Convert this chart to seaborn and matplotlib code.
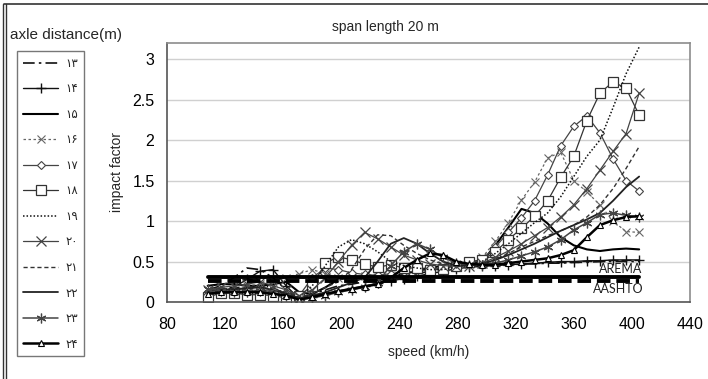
import numpy as np
import pandas as pd
import matplotlib
matplotlib.use("Agg")
import matplotlib.pyplot as plt
import seaborn as sns
from matplotlib.lines import Line2D

# speed grid (km/h)
speeds = [108, 117, 126, 135, 144, 153, 162, 171, 180, 189, 198, 207, 216, 225, 234, 243, 252,
          261, 270, 279, 288, 297, 306, 315, 324, 333, 342, 351, 360, 369, 378, 387, 396, 405]

# impact factor for each axle distance (m)
if13 = [0.15, 0.20, 0.30, 0.42, 0.40, 0.30, 0.15, 0.05, 0.10, 0.15, 0.20, 0.22, 0.25, 0.27, 0.30, 0.32, 0.35,
        0.38, 0.42, 0.46, 0.48, 0.47, 0.46, 0.46, 0.47, 0.47, 0.48, 0.48, 0.49, 0.49, 0.50, 0.50, 0.50, 0.50]
if14 = [0.10, 0.12, 0.18, 0.28, 0.38, 0.40, 0.20, 0.04, 0.06, 0.10, 0.14, 0.17, 0.20, 0.23, 0.26, 0.29, 0.32,
        0.35, 0.38, 0.41, 0.43, 0.44, 0.45, 0.46, 0.47, 0.48, 0.49, 0.50, 0.50, 0.51, 0.51, 0.52, 0.52, 0.52]
if15 = [0.20, 0.22, 0.22, 0.20, 0.20, 0.22, 0.25, 0.12, 0.10, 0.18, 0.28, 0.30, 0.28, 0.27, 0.30, 0.35, 0.38,
        0.42, 0.45, 0.45, 0.46, 0.50, 0.70, 0.92, 1.15, 1.10, 0.97, 0.80, 0.70, 0.65, 0.63, 0.65, 0.66, 0.65]
if16 = [0.15, 0.18, 0.20, 0.20, 0.22, 0.25, 0.30, 0.35, 0.40, 0.35, 0.30, 0.30, 0.32, 0.35, 0.38, 0.40, 0.42,
        0.42, 0.44, 0.46, 0.48, 0.55, 0.75, 0.98, 1.26, 1.48, 1.78, 1.85, 1.50, 1.36, 1.20, 1.00, 0.87, 0.86]
if17 = [0.12, 0.15, 0.15, 0.15, 0.14, 0.15, 0.12, 0.08, 0.30, 0.42, 0.40, 0.36, 0.34, 0.33, 0.35, 0.37, 0.38,
        0.40, 0.42, 0.45, 0.48, 0.52, 0.68, 0.86, 1.04, 1.25, 1.57, 1.93, 2.17, 2.30, 2.09, 1.77, 1.50, 1.37]
if18 = [0.06, 0.11, 0.11, 0.09, 0.09, 0.08, 0.05, 0.08, 0.20, 0.48, 0.56, 0.52, 0.47, 0.43, 0.46, 0.42, 0.42,
        0.40, 0.41, 0.45, 0.50, 0.52, 0.62, 0.77, 0.91, 1.06, 1.25, 1.54, 1.80, 2.24, 2.58, 2.72, 2.64, 2.31]
if19 = [0.10, 0.12, 0.15, 0.18, 0.20, 0.18, 0.10, 0.05, 0.20, 0.45, 0.68, 0.77, 0.72, 0.62, 0.50, 0.45, 0.42,
        0.40, 0.40, 0.43, 0.47, 0.50, 0.60, 0.72, 0.85, 0.98, 1.10, 1.30, 1.55, 1.80, 2.00, 2.40, 2.82, 3.15]
if20 = [0.15, 0.18, 0.20, 0.22, 0.25, 0.20, 0.15, 0.08, 0.15, 0.30, 0.50, 0.70, 0.86, 0.78, 0.68, 0.58, 0.52,
        0.47, 0.45, 0.44, 0.45, 0.48, 0.55, 0.63, 0.72, 0.82, 0.92, 1.05, 1.20, 1.40, 1.63, 1.86, 2.08, 2.58]
if21 = [0.12, 0.14, 0.15, 0.16, 0.18, 0.16, 0.12, 0.06, 0.10, 0.18, 0.25, 0.40, 0.65, 0.83, 0.82, 0.70, 0.60,
        0.52, 0.47, 0.45, 0.45, 0.47, 0.52, 0.60, 0.68, 0.75, 0.82, 0.88, 0.95, 1.05, 1.20, 1.40, 1.65, 1.92]
if22 = [0.14, 0.15, 0.16, 0.17, 0.18, 0.15, 0.10, 0.05, 0.08, 0.12, 0.18, 0.24, 0.30, 0.50, 0.72, 0.79, 0.72,
        0.60, 0.50, 0.45, 0.45, 0.47, 0.52, 0.58, 0.65, 0.72, 0.80, 0.88, 0.95, 1.02, 1.10, 1.25, 1.42, 1.55]
if23 = [0.16, 0.14, 0.12, 0.12, 0.13, 0.12, 0.08, 0.03, 0.05, 0.08, 0.12, 0.15, 0.18, 0.24, 0.45, 0.62, 0.72,
        0.65, 0.55, 0.48, 0.46, 0.46, 0.48, 0.52, 0.57, 0.62, 0.68, 0.77, 0.89, 0.98, 1.08, 1.10, 1.07, 1.05]
if24 = [0.10, 0.12, 0.12, 0.12, 0.12, 0.10, 0.08, 0.03, 0.06, 0.10, 0.13, 0.16, 0.19, 0.22, 0.30, 0.42, 0.52,
        0.60, 0.58, 0.50, 0.47, 0.46, 0.46, 0.48, 0.50, 0.52, 0.54, 0.58, 0.64, 0.80, 0.95, 1.01, 1.05, 1.06]

series_labels = ["۱۳", "۱۴", "۱۵", "۱۶", "۱۷", "۱۸", "۱۹", "۲۰", "۲۱", "۲۲", "۲۳", "۲۴"]
series_values = [if13, if14, if15, if16, if17, if18, if19, if20, if21, if22, if23, if24]

# code limits
code_speed = [108, 405]
arema_value = [0.31, 0.31]
aashto_value = [0.265, 0.265]

sns.set_style("white")
plt.rcParams["font.family"] = ["Liberation Sans", "DejaVu Sans"]

fig = plt.figure(figsize=(7.08, 3.79), dpi=100)
ax = fig.add_axes([167 / 708, 1 - 302 / 379, (690 - 167) / 708, (302 - 43) / 379])


def style(color, ls, lw, marker="None", ms=6, face=None, mew=0.8):
    return dict(color=color, linestyle=ls, linewidth=lw, marker=marker, markersize=ms,
                markerfacecolor=face if face else color, markeredgecolor=color, markeredgewidth=mew)


styles = [
    style("#111111", (0, (7, 2.5, 1.5, 2.5)), 1.2),
    style("#111111", "-", 1.0, "+", 6.5, mew=1.0),
    style("#000000", "-", 1.5),
    style("#666666", (0, (2, 2)), 0.9, "x", 5.5, mew=0.8),
    style("#444444", "-", 0.9, "D", 4.5, face="white", mew=0.8),
    style("#333333", "-", 0.9, "s", 7, face="white", mew=0.9),
    style("#111111", (0, (1, 1.3)), 1.1),
    style("#444444", "-", 0.9, "x", 7, mew=0.9),
    style("#333333", (0, (3, 2)), 1.0),
    style("#222222", "-", 1.3),
    style("#444444", "-", 1.1, (6, 2, 0), 7, mew=0.9),
    style("#000000", "-", 1.8, "^", 4, face="white", mew=0.8),
]

handles = []
for lab, vals, st in zip(series_labels, series_values, styles):
    df = pd.DataFrame({"speed": speeds, "impact": vals})
    sns.lineplot(data=df, x="speed", y="impact", ax=ax, estimator=None, sort=False, legend=False, **st)
    handles.append(Line2D([], [], **st))

# AREMA and AASHTO limits
sns.lineplot(x=code_speed, y=arema_value, ax=ax, legend=False, color="black", linewidth=2.8, linestyle="-")
sns.lineplot(x=code_speed, y=aashto_value, ax=ax, legend=False, color="black", linewidth=2.8,
             linestyle=(0, (3.5, 1.5)))

ax.text(407, 0.335, "AREMA", ha="right", va="bottom", fontsize=9, family=["Lato", "DejaVu Sans"],
        color="#222222")
ax.text(408, 0.235, "AASHTO", ha="right", va="top", fontsize=9, family=["Lato", "DejaVu Sans"],
        color="#222222")

ax.set_xlim(80, 440)
ax.set_ylim(0, 3.2)
ax.set_xticks([80, 120, 160, 200, 240, 280, 320, 360, 400, 440])
ax.set_yticks([0, 0.5, 1, 1.5, 2, 2.5, 3])
ax.set_yticklabels(["0", "0.5", "1", "1.5", "2", "2.5", "3"])
ax.yaxis.grid(True, color="#d0d0d0", linewidth=1)
ax.set_axisbelow(True)
ax.tick_params(axis="both", direction="out", length=5, width=1, colors="#444444", labelsize=11.5,
               labelcolor="black", pad=4)
ax.tick_params(axis="x", pad=6)
for side in ["top", "right"]:
    ax.spines[side].set_color("#8c8c8c")
    ax.spines[side].set_linewidth(1.2)
for side in ["left", "bottom"]:
    ax.spines[side].set_color("#555555")
    ax.spines[side].set_linewidth(1.2)

ax.set_xlabel("speed (km/h)", fontsize=10, labelpad=9)
ax.set_ylabel("impact factor", fontsize=10, labelpad=6)
fig.text(385 / 708, 1 - 27 / 379, "span length 20 m", ha="center", va="center", fontsize=10)
fig.text(10 / 708, 1 - 35 / 379, "axle distance(m)", ha="left", va="center", fontsize=11)

leg = fig.legend(handles, series_labels, loc="upper left", bbox_to_anchor=(17 / 708, 1 - 51 / 379),
                 bbox_transform=fig.transFigure, frameon=True, fancybox=False, borderaxespad=0,
                 handlelength=3.0, labelspacing=1.06, borderpad=0.5, handletextpad=0.6,
                 prop={"family": ["DejaVu Sans"], "size": 8.5})
leg.get_frame().set_edgecolor("#555555")
leg.get_frame().set_linewidth(1.0)

# page frame
fig.add_artist(Line2D([4 / 708, 1], [1 - 4 / 379] * 2, transform=fig.transFigure, color="#333333", lw=1.2))
fig.add_artist(Line2D([3 / 708] * 2, [0, 1 - 4 / 379], transform=fig.transFigure, color="#333333", lw=1.0))
fig.add_artist(Line2D([6 / 708] * 2, [0, 1 - 4 / 379], transform=fig.transFigure, color="#333333", lw=1.0))

fig.savefig("out.png", dpi=100)
